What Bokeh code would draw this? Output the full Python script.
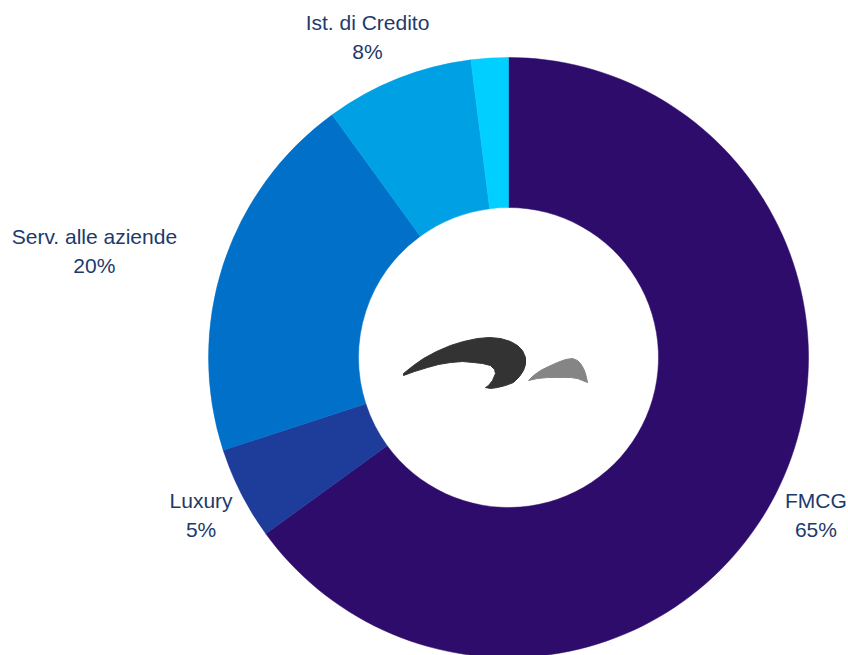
import math
from bokeh.plotting import figure
from bokeh.models import Range1d, ColumnDataSource
from bokeh.embed import file_html
from bokeh.resources import INLINE
from bokeh.core.properties import value

# ---- data ----
categories = ["FMCG", "Luxury", "Serv. alle aziende", "Ist. di Credito", "Altro"]
shares = [65, 5, 20, 8, 2]
pct_labels = ["65%", "5%", "20%", "8%", ""]
colors = ["#2E0C6B", "#1E3C9A", "#0070C9", "#00A0E4", "#00CFFF"]
show_label = [True, True, True, True, False]

# ---- geometry (style) ----
R_OUT, R_IN, R_LAB = 300, 150, 345
xoffs = {"FMCG": 0, "Luxury": 0, "Serv. alle aziende": -86, "Ist. di Credito": -14}

total = float(sum(shares))
starts, ends, mids = [], [], []
cum = 0.0
for s in shares:
    a0 = math.pi / 2 - 2 * math.pi * cum / total
    cum += s
    a1 = math.pi / 2 - 2 * math.pi * cum / total
    starts.append(a0)
    ends.append(a1)
    mids.append((a0 + a1) / 2)

src = ColumnDataSource(dict(cat=categories, start=starts, end=ends, color=colors))

W, H = 848, 655
p = figure(width=W, height=H, output_backend="svg", toolbar_location=None,
           x_range=Range1d(-508, 340), y_range=Range1d(-298, 357),
           min_border=0, outline_line_color=None)
p.axis.visible = False
p.grid.visible = False
p.background_fill_color = "white"
p.border_fill_color = "white"

p.annular_wedge(x=0, y=0, inner_radius=R_IN, outer_radius=R_OUT,
                start_angle="start", end_angle="end", direction="clock",
                fill_color="color", line_color="color", line_width=0.5, source=src)

# labels
lx, ly, names, pcts, xo = [], [], [], [], []
for c, pc, m, sh in zip(categories, pct_labels, mids, show_label):
    if not sh:
        continue
    lx.append(R_LAB * math.cos(m))
    ly.append(R_LAB * math.sin(m))
    names.append(c)
    pcts.append(pc)
    xo.append(xoffs[c])
lsrc = ColumnDataSource(dict(x=lx, y=ly, name=names, pct=pcts, xo=xo))
common = dict(text_font=value("Liberation Sans"), text_font_size="21px",
              text_color="#1C3A6B", text_baseline="middle", text_align="center",
              x_offset="xo", source=lsrc)
p.text(x="x", y="y", text="name", y_offset=-14, **common)
p.text(x="x", y="y", text="pct", y_offset=15, **common)

# centre logo (decoration)
dark_x = [403, 413, 423, 436, 450, 463, 477, 489, 500, 510, 517, 522, 525, 525, 523, 519, 513, 505, 497, 490, 485,
          488, 492, 495, 494, 490, 482, 473, 462, 450, 438, 427, 414, 403]
dark_y = [373, 365, 358, 351, 345, 341, 338, 337, 338, 341, 345, 350, 357, 364, 370, 376, 382, 385, 387, 388, 387,
          385, 380, 373, 369, 365, 363, 362, 361, 362, 364, 367, 371, 375]
grey_x = [528, 533, 540, 548, 557, 565, 572, 577, 580, 583, 585, 587, 582, 577, 570, 563, 555, 547, 537, 528]
grey_y = [380, 375, 370, 366, 362, 359, 358, 360, 363, 368, 373, 382, 380, 378, 377, 377, 377, 377, 378, 380]
p.patch([x - 508 for x in dark_x], [357 - y for y in dark_y], fill_color="#333333", line_color="#333333")
p.patch([x - 508 for x in grey_x], [357 - y for y in grey_y], fill_color="#858585", line_color="#858585")

open("out.html", "w").write(file_html(p, INLINE))
